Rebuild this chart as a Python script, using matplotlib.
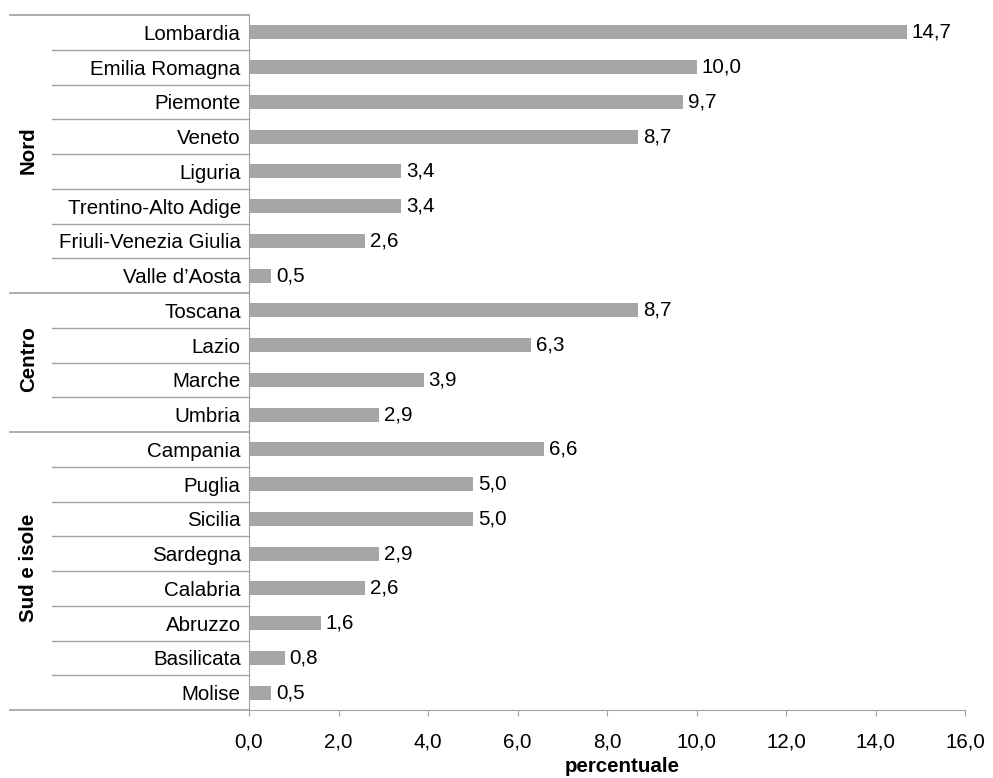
import matplotlib.pyplot as plt
import matplotlib.transforms as mtransforms

plt.rcParams['font.family'] = ['Liberation Sans', 'DejaVu Sans']

regioni = ["Lombardia", "Emilia Romagna", "Piemonte", "Veneto", "Liguria",
           "Trentino-Alto Adige", "Friuli-Venezia Giulia", "Valle d\u2019Aosta",
           "Toscana", "Lazio", "Marche", "Umbria",
           "Campania", "Puglia", "Sicilia", "Sardegna", "Calabria", "Abruzzo",
           "Basilicata", "Molise"]
valori = [14.7, 10.0, 9.7, 8.7, 3.4, 3.4, 2.6, 0.5,
          8.7, 6.3, 3.9, 2.9,
          6.6, 5.0, 5.0, 2.9, 2.6, 1.6, 0.8, 0.5]
gruppi = ["Nord", "Centro", "Sud e isole"]
n_per_gruppo = [8, 4, 8]
xticks = [0, 2, 4, 6, 8, 10, 12, 14, 16]

grey_line = "#a0a0a0"
fs = 14.8

fig = plt.figure(figsize=(9.93, 7.78), dpi=100)
ax = fig.add_axes([0.2508, 0.0874, 0.7210, 0.8933])

pos = list(range(len(regioni)))
ax.barh(pos, valori, height=0.4, color="#a6a6a6")
for y, v in zip(pos, valori):
    ax.annotate(f"{v:.1f}".replace(".", ","), (v, y), xytext=(3.5, 0),
                textcoords="offset points", va="center", ha="left", fontsize=fs)

ax.set_ylim(len(regioni) - 0.5, -0.5)
ax.set_xlim(0, 16)
ax.set_yticks(pos)
ax.set_yticklabels(regioni, fontsize=fs)
ax.tick_params(axis="y", length=0, pad=6)
ax.set_xticks(xticks)
ax.set_xticklabels([f"{t:.1f}".replace(".", ",") for t in xticks], fontsize=fs)
ax.tick_params(axis="x", length=4.3, color=grey_line, pad=12)
ax.set_xlabel("percentuale", fontsize=fs, fontweight="bold", labelpad=1)
ax.xaxis.set_label_coords(0.521, -0.068)

for s in ["top", "right"]:
    ax.spines[s].set_visible(False)
for s in ["left", "bottom"]:
    ax.spines[s].set_color(grey_line)

# separator lines in the label column
trans = mtransforms.blended_transform_factory(ax.transAxes, ax.transData)
x_reg = -0.275
x_grp = -0.334
ax.plot([x_grp, 0], [-0.5, -0.5], color=grey_line, lw=1.2, transform=trans, clip_on=False)
ax.plot([x_grp, 0], [len(regioni) - 0.5] * 2, color=grey_line, lw=1.2, transform=trans, clip_on=False)
start = 0
for g, n in zip(gruppi, n_per_gruppo):
    for k in range(start + 1, start + n):
        ax.plot([x_reg, 0], [k - 0.5, k - 0.5], color=grey_line, lw=1.0,
                transform=trans, clip_on=False)
    if start > 0:
        ax.plot([x_grp, 0], [start - 0.5, start - 0.5], color=grey_line, lw=1.2,
                transform=trans, clip_on=False)
    ax.text(-0.308, start + (n - 1) / 2 - 0.1, g, rotation=90, ha="center", va="center",
            fontsize=fs, fontweight="bold", transform=trans)
    start += n

fig.savefig("out.png", dpi=100)
